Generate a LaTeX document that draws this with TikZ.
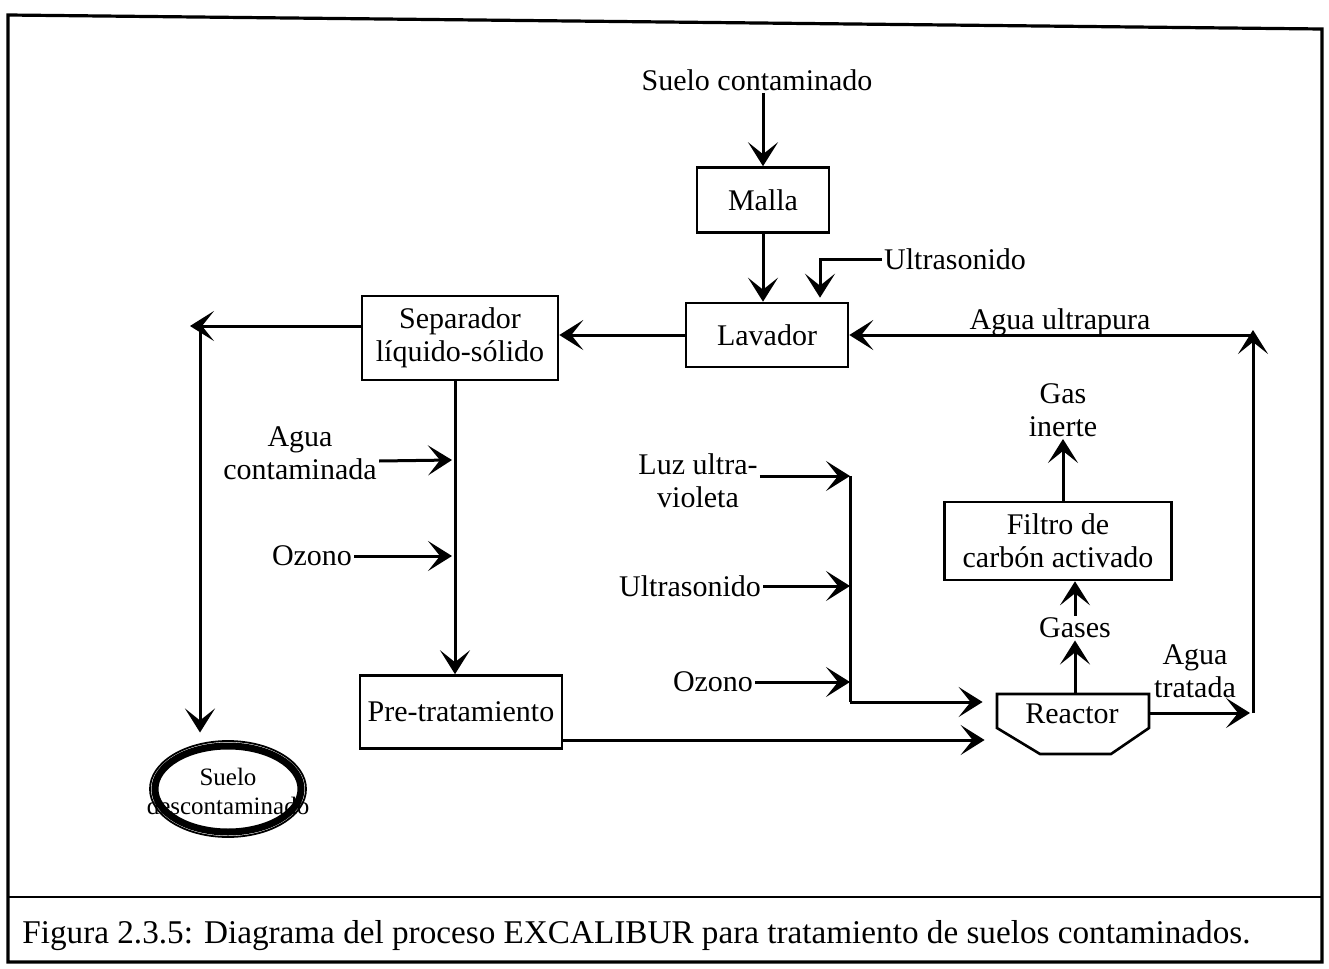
\documentclass[tikz,border=0pt]{standalone}
\usepackage{fontspec}
\setmainfont{Liberation Serif}
\usetikzlibrary{arrows.meta,calc,shapes.geometric}
\begin{document}
\begin{tikzpicture}[x=0.5pt,y=-0.5pt,
 every node/.style={inner sep=1pt},
 txt/.style={font=\fontsize{15}{16.5}\selectfont, align=center},
 box/.style={txt, draw, line width=1.3pt, inner sep=0pt},
 ln/.style={line width=1.5pt},
 arr/.style={ln, -{Stealth[length=12pt,width=15pt,inset=6pt]}}]
\useasboundingbox (0,0) rectangle (1329,969);
% frame
\draw[line width=1.6pt] (8,15) -- (1322,29) -- (1322,962) -- (8,962) -- cycle;
\draw[line width=1.3pt] (8,897) -- (1322,897);
% boxes
\node[box, minimum width=66pt, minimum height=32.5pt] (malla) at (763,200) {Malla};
\node[box, minimum width=81pt, minimum height=32pt] (lav) at (767,335) {Lavador};
\node[box, minimum width=98pt, minimum height=42pt] (sep) at (460,338) {Separador\\líquido-sólido};
\node[box, minimum width=101pt, minimum height=36.5pt] (pre) at (461,712) {Pre-tratamiento};
\node[box, minimum width=113.5pt, minimum height=39pt] (fil) at (1058,541) {Filtro de\\carbón activado};
% reactor
\node[minimum width=76pt, minimum height=30pt, inner sep=0pt] (reac) at (1073,724) {};
\draw[line width=1.3pt] (997,694) -- (997,728) -- (1040,754) -- (1111,754) -- (1149,728) -- (1149,694) -- cycle;
\node[txt] (reactxt) at (1072,714) {Reactor};
% ellipse
\node[ellipse, draw, line width=3.5pt, minimum width=73pt, minimum height=43pt, inner sep=0pt] (suelo) at (228,789) {};
\draw[line width=0.9pt] (suelo.center) ellipse [x radius=78, y radius=48];
\node[font=\fontsize{12.5}{14.5}\selectfont, align=center] (suelotxt) at (228,791) {Suelo\\descontaminado};
% labels
\node[txt] (sc) at (757,80) {Suelo contaminado};
\node[txt] (us1) at (955,259) {Ultrasonido};
\node[txt] (au) at (1060,322) {Agua ultrapura};
\node[txt] (ac) at (300,453) {Agua\\contaminada};
\node[txt] (oz1) at (312,556) {Ozono};
\node[txt] (luz) at (698,481) {Luz ultra-\\violeta};
\node[txt] (us2) at (690,586) {Ultrasonido};
\node[txt] (oz2) at (713,682) {Ozono};
\node[txt] (gi) at (1063,410) {Gas\\inerte};
\node[txt] (gas) at (1075,628) {Gases};
\node[txt] (at) at (1195,671) {Agua\\tratada};
\node[font=\fontsize{16.6}{18}\selectfont, anchor=west] (cap) at (20,936) {Figura 2.3.5: Diagrama del proceso EXCALIBUR para tratamiento de suelos contaminados.};
% connectors
\draw[arr] (malla.north |- sc.south) -- (malla.north);
\draw[arr] (malla.south) -- (malla.south |- lav.north);
\coordinate (u1) at (820,259);
\draw[arr] (us1.west) -- (u1) -- ($(u1 |- lav.north)+(0,-4)$);
\draw[arr] (lav.west) -- (lav.west -| sep.east);
\coordinate (sl) at (190,326);
\draw[arr] (sep.west |- sl) -- (sl);
\coordinate (sv) at (200,326);
\draw[arr] (sv) -- ($(sv |- suelo.north)+(0,-10)$);
\coordinate (sepb) at ($(sep.south)+(-5,0)$);
\draw[arr] (sepb) -- (sepb |- pre.north);
\coordinate (v1) at (452,460);
\draw[arr] ($(ac.east)+(0,8)$) -- (v1);
\draw[arr] (oz1.east) -- (oz1.east -| v1);
\coordinate (rin2) at ($(reac.west)+(-12,16)$);
\draw[arr] (pre.east |- rin2) -- (rin2);
\coordinate (j1) at (850,476);
\coordinate (j2) at (850,702);
\draw[arr] (luz.east |- j1) -- (j1);
\draw[arr] (us2.east) -- (us2.east -| j1);
\draw[arr] (oz2.east) -- (oz2.east -| j1);
\draw[ln] (j1) -- (j2);
\coordinate (rin1) at ($(reac.west)+(-14,-22)$);
\draw[arr] (j2) -- (rin1);
\draw[arr] (reac.north -| gas) -- (gas.south);
\draw[arr] (gas.north) -- (gas.north |- fil.south);
\draw[arr] (fil.north -| gi) -- (gi.south);
\coordinate (r1) at (1253,713);
\draw[arr] (reac.east |- r1) -- ($(r1)+(-3,0)$);
\coordinate (r2) at (1253,330);
\draw[arr] (r1) -- (r2);
\draw[arr] (r2 |- lav.east) -- (lav.east);
\end{tikzpicture}
\end{document}
